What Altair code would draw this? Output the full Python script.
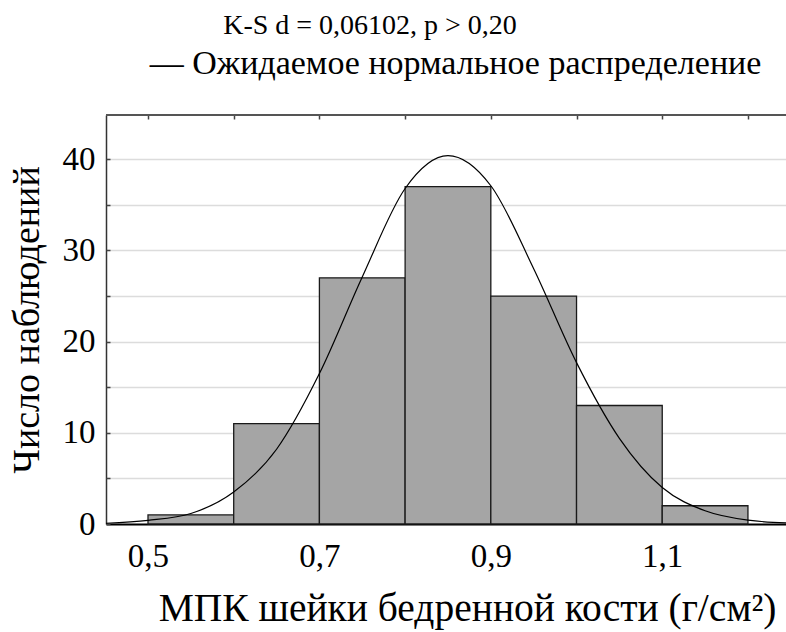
import altair as alt
import pandas as pd

# ---- data ----
bin_start = [0.5, 0.6, 0.7, 0.8, 0.9, 1.0, 1.1]
bin_end = [0.6, 0.7, 0.8, 0.9, 1.0, 1.1, 1.2]
counts = [1, 11, 27, 37, 25, 13, 2]

curve_x = [0.45, 0.50, 0.55, 0.60, 0.65, 0.70, 0.75, 0.80, 0.85,
           0.90, 0.95, 1.00, 1.05, 1.10, 1.15, 1.20, 1.25]
curve_y = [0.08, 0.4, 1.15, 3.5, 8.2, 16.5, 27.1, 36.8, 40.4,
           37.1, 28.0, 17.7, 9.4, 4.0, 1.45, 0.42, 0.1]

x_ticks = [0.5, 0.6, 0.7, 0.8, 0.9, 1.0, 1.1, 1.2]
x_labels = [0.5, 0.7, 0.9, 1.1]
y_ticks = [0, 5, 10, 15, 20, 25, 30, 35, 40]

title_line1 = "K-S d = 0,06102, p > 0,20"
title_line2 = "— Ожидаемое нормальное распределение"
x_title = "МПК шейки бедренной кости (г/см²)"
y_title = "Число наблюдений"

FONT = "Liberation Serif, DejaVu Serif, serif"
W, H = 680, 409

hist_df = pd.DataFrame({"start": bin_start, "end": bin_end, "count": counts})
curve_df = pd.DataFrame({"x": curve_x, "y": curve_y})

x_scale = alt.Scale(domain=[0.451, 1.2444], nice=False, zero=False)
y_scale = alt.Scale(domain=[0, 44.86], nice=False, zero=True)

bars = alt.Chart(hist_df).mark_rect(
    fill="#a5a5a5", stroke="#1a1a1a", strokeWidth=1.3
).encode(
    x=alt.X("start:Q", scale=x_scale, axis=alt.Axis(
        orient="bottom", values=x_labels,
        labelExpr="replace(format(datum.value, '.1f'), '.', ',')",
        ticks=False, tickSize=0, domain=True, domainColor="black", domainWidth=2,
        grid=False, labelFont=FONT, labelFontSize=33, labelColor="black",
        labelPadding=16,
        title=x_title, titleFont=FONT, titleFontSize=39.5, titleFontWeight="normal",
        titleColor="black", titleX=361, titleY=96, titleAlign="center",
        titleBaseline="alphabetic")),
    x2="end:Q",
    y=alt.Y("count:Q", scale=y_scale, axis=alt.Axis(
        orient="left", values=y_ticks,
        labelExpr="datum.value % 10 == 0 ? datum.label : ''",
        ticks=False, tickSize=0, domain=True, domainColor="#333333", domainWidth=1.5,
        grid=True, gridColor="#dcdcdc", gridWidth=1.5,
        labelFont=FONT, labelFontSize=33, labelColor="black", labelPadding=11,
        title=y_title, titleFont=FONT, titleFontSize=38, titleFontWeight="normal",
        titleColor="black", titleX=-68, titleY=H / 2, titleAngle=270,
        titleAlign="center", titleBaseline="alphabetic")),
    y2=alt.datum(0),
)

curve = alt.Chart(curve_df).mark_line(
    color="black", strokeWidth=1.2, interpolate="monotone", clip=True
).encode(
    x=alt.X("x:Q", scale=x_scale, axis=alt.Axis(
        orient="top", values=x_ticks, offset=-4, ticks=True, tickSize=4,
        tickColor="#444444", tickWidth=1.5, domain=False, labels=False, grid=False,
        title=title_line2, titleFont=FONT, titleFontSize=34, titleFontWeight="normal",
        titleColor="black", titleX=349, titleY=-46, titleAlign="center",
        titleBaseline="alphabetic")),
    y=alt.Y("y:Q", scale=y_scale, axis=alt.Axis(
        orient="left", values=y_ticks, offset=-4, ticks=True, tickSize=4,
        tickColor="#444444", tickWidth=1.5, domain=False, labels=False, grid=False,
        title=None)),
)

top_line = alt.Chart(pd.DataFrame({"a": [0]})).mark_rule(
    color="#555555", strokeWidth=2
).encode(x=alt.value(0), x2=alt.value(W), y=alt.value(0))

chart = alt.layer(bars, curve, top_line).resolve_axis(
    x="independent", y="independent"
).properties(
    width=W, height=H,
    title=alt.TitleParams(
        text=title_line1, font=FONT, fontSize=28, fontWeight="normal",
        color="black", anchor="middle", frame="group", dx=-76, offset=0, dy=-6),
    autosize=alt.AutoSizeParams(type="none"),
    padding={"left": 106, "top": 115, "right": 0, "bottom": 108},
).configure(
    background="white", font=FONT
).configure_axis(
    labelFont=FONT, titleFont=FONT
).configure_view(stroke=None)

chart.save("out.html", embed_options={"renderer": "svg", "actions": False})
